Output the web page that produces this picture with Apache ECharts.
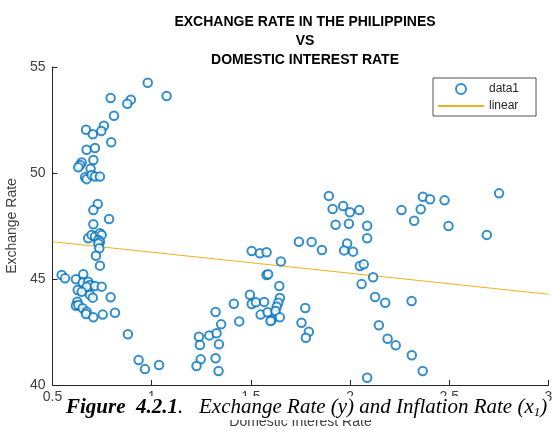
<!DOCTYPE html>
<html lang="en">
<head>
    <meta charset="UTF-8">
    <title>Exchange Rate vs Domestic Interest Rate</title>
    <script src="https://cdn.jsdelivr.net/npm/echarts@6.0.0/dist/echarts.min.js"></script>
    <style>
        html, body { margin: 0; padding: 0; background: #fff; }
        #chart { width: 552px; height: 430px; }
    </style>
</head>
<body>
    <div id="chart"></div>

    <script>
        // domestic interest rate (x) and exchange rate (y)
        const rateX = [
            0.980, 1.075, 0.793, 0.895, 0.877, 0.810, 0.759, 0.669, 0.746, 0.703,
            0.796, 0.672, 0.714, 0.706, 0.647, 0.639, 0.630, 0.692, 0.664, 0.672,
            0.697, 0.714, 0.739, 0.728, 0.706, 0.785, 0.706, 0.680, 0.697, 0.714,
            0.739, 0.748, 0.731, 0.739, 0.731, 0.736, 0.719, 0.739, 0.546, 0.563,
            0.499, 0.618, 0.655, 0.652, 0.680, 0.689, 0.672, 0.714, 0.748, 0.627,
            0.647, 0.689, 0.703, 0.793, 0.625, 0.618, 0.630, 0.652, 0.672, 0.669,
            0.706, 0.753, 0.815, 0.880, 0.934, 0.966, 1.037,
            1.893, 1.912, 1.965, 1.999, 2.046, 1.927, 1.994, 2.086, 2.086, 1.742,
            1.806, 1.858, 1.985, 1.970, 2.015, 1.504, 1.545, 1.579, 1.651, 2.049,
            2.069, 1.579, 1.587, 2.058, 1.643, 1.646, 1.638, 1.630, 1.495, 1.414,
            1.504, 1.525, 1.567, 1.774, 1.549, 1.584, 1.624, 1.646, 1.604, 1.599,
            1.441, 1.322, 1.350, 1.755, 1.792, 1.777, 1.238, 1.290, 1.327, 1.243,
            1.339, 1.247, 1.226, 1.322, 1.337, 2.086, 2.116, 2.126, 2.177, 2.310,
            2.145, 2.189, 2.230, 2.311, 2.366, 2.259, 2.367, 2.403, 2.356, 2.476,
            2.323, 2.496, 2.689, 2.751
        ];
        const rateY = [
            54.26, 53.63, 53.54, 53.46, 53.27, 52.70, 52.23, 52.04, 51.98, 51.83,
            51.45, 51.10, 51.18, 50.61, 50.50, 50.38, 50.27, 50.20, 49.80, 49.71,
            49.91, 49.83, 49.83, 48.54, 48.25, 47.83, 47.58, 46.92, 47.08, 47.00,
            47.16, 47.08, 46.84, 46.76, 46.68, 46.45, 46.10, 45.63, 45.19, 45.03,
            44.67, 44.99, 45.22, 44.83, 44.87, 44.72, 44.64, 44.67, 44.64, 44.48,
            44.40, 44.25, 44.12, 44.14, 43.93, 43.74, 43.77, 43.62, 43.46, 43.35,
            43.19, 43.32, 43.41, 42.39, 41.18, 40.75, 40.94,
            48.92, 48.30, 48.44, 48.15, 48.25, 47.56, 47.61, 47.51, 46.92, 46.76,
            46.75, 46.37, 46.68, 46.35, 46.29, 46.32, 46.21, 46.26, 45.83, 45.61,
            45.69, 45.19, 45.22, 44.76, 44.67, 44.10, 43.88, 43.69, 44.26, 43.83,
            43.82, 43.90, 43.92, 43.63, 43.32, 43.43, 43.49, 43.19, 43.07, 43.02,
            43.00, 43.44, 42.86, 42.94, 42.51, 42.23, 42.28, 42.34, 42.44, 41.89,
            41.92, 41.21, 40.90, 41.26, 40.66, 40.34, 45.08, 44.15, 43.88, 43.96,
            42.82, 42.18, 41.87, 41.40, 40.66, 48.25, 48.88, 48.76, 48.29, 48.71,
            47.75, 47.50, 47.08, 49.04
        ];

        // linear fit endpoints
        const fitX = [0.5, 3];
        const fitY = [46.76, 44.28];

        const xTicks = [0.5, 1, 1.5, 2, 2.5, 3];
        const yTicks = [40, 45, 50, 55];

        const blue = '#0072BD';
        const gold = '#EDB120';
        const axisGray = '#262626';
        const labelGray = '#404040';
        const sans = 'Liberation Sans, Arial, Helvetica, sans-serif';
        const serif = 'Liberation Serif, Times New Roman, serif';

        const chart = echarts.init(document.getElementById('chart'), null, { renderer: 'canvas' });

        chart.setOption({
            animation: false,
            backgroundColor: '#fff',
            title: {
                text: 'EXCHANGE RATE IN THE PHILIPPINES\nVS\nDOMESTIC INTEREST RATE',
                left: 300,
                top: 8,
                textAlign: 'center',
                textStyle: {
                    fontFamily: sans,
                    fontSize: 14,
                    fontWeight: 'bold',
                    color: '#000',
                    lineHeight: 19
                }
            },
            grid: {
                left: 52.5,
                right: 3.5,
                top: 67,
                bottom: 45,
                outerBoundsMode: 'none'
            },
            legend: {
                orient: 'vertical',
                left: 433,
                top: 78,
                padding: [5, 17, 4, 4],
                itemGap: 5,
                itemWidth: 46,
                itemHeight: 10,
                backgroundColor: '#fff',
                borderColor: axisGray,
                borderWidth: 0.8,
                borderRadius: 0,
                textStyle: { fontFamily: sans, fontSize: 12, color: axisGray },
                data: [
                    { name: 'data1', icon: 'emptyCircle' },
                    { name: 'linear', itemStyle: { opacity: 0 } }
                ]
            },
            xAxis: {
                type: 'value',
                min: xTicks[0],
                max: xTicks[xTicks.length - 1],
                interval: 0.5,
                name: 'Domestic Interest Rate',
                nameLocation: 'middle',
                nameGap: 30,
                nameTextStyle: { fontFamily: sans, fontSize: 14, color: labelGray },
                axisLine: { onZero: false, lineStyle: { color: axisGray, width: 1 } },
                axisTick: { inside: true, length: 5, lineStyle: { color: axisGray } },
                axisLabel: { fontFamily: sans, fontSize: 14, color: labelGray, margin: 5 },
                splitLine: { show: false }
            },
            yAxis: {
                type: 'value',
                min: yTicks[0],
                max: yTicks[yTicks.length - 1],
                interval: 5,
                name: 'Exchange Rate',
                nameLocation: 'middle',
                nameGap: 27,
                nameTextStyle: { fontFamily: sans, fontSize: 14, color: labelGray },
                axisLine: { show: true, onZero: false, lineStyle: { color: axisGray, width: 1 } },
                axisTick: { show: true, inside: true, length: 5, lineStyle: { color: axisGray } },
                axisLabel: { fontFamily: sans, fontSize: 14, color: labelGray, margin: 7 },
                splitLine: { show: false }
            },
            series: [
                {
                    name: 'data1',
                    type: 'scatter',
                    symbol: 'emptyCircle',
                    symbolSize: 8.5,
                    itemStyle: { color: blue, borderColor: blue, borderWidth: 1 },
                    data: rateX.map((x, i) => [x, rateY[i]]),
                    z: 3
                },
                {
                    name: 'linear',
                    type: 'line',
                    symbol: 'none',
                    lineStyle: { color: gold, width: 1 },
                    itemStyle: { color: gold },
                    data: fitX.map((x, i) => [x, fitY[i]]),
                    z: 2
                }
            ],
            graphic: [
                {
                    type: 'text',
                    left: 64,
                    top: 396,
                    z: 100,
                    style: {
                        text: '{b|Figure  4.2.1}{i|.   Exchange Rate (y) and Inflation Rate (x}{s|1}{i|)}',
                        backgroundColor: '#fff',
                        padding: [0, 2, 1, 2],
                        rich: {
                            b: { fontFamily: serif, fontSize: 21, fontStyle: 'italic', fontWeight: 'bold', fill: '#000', lineHeight: 23 },
                            i: { fontFamily: serif, fontSize: 21, fontStyle: 'italic', fill: '#000', lineHeight: 23 },
                            s: { fontFamily: serif, fontSize: 13, fontStyle: 'italic', fill: '#000', verticalAlign: 'bottom', lineHeight: 23 }
                        }
                    }
                }
            ]
        });
    </script>
</body>
</html>
